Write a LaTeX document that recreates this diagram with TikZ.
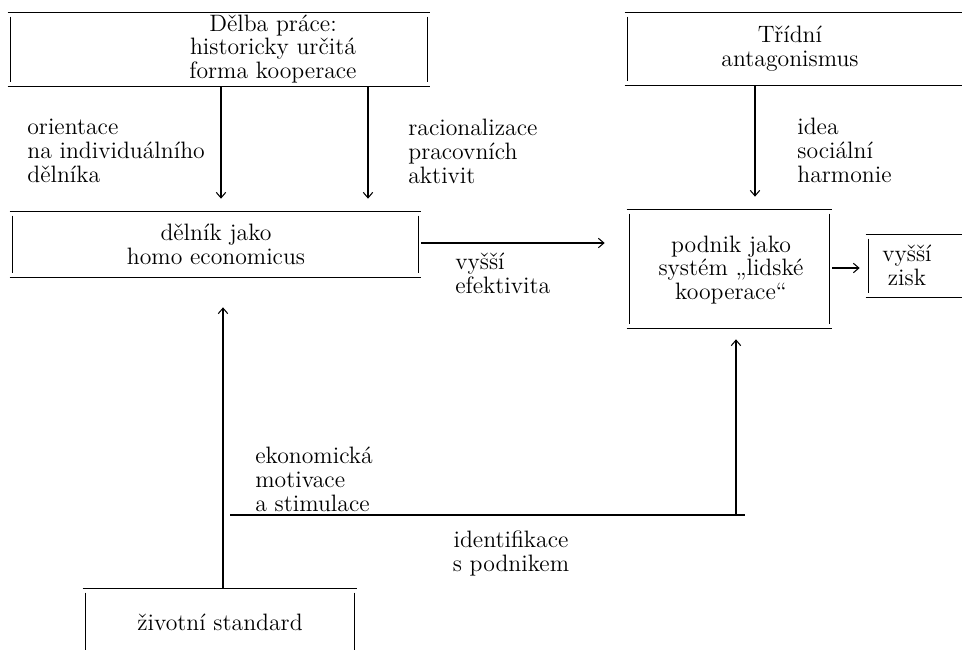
\documentclass[tikz,border=0pt]{standalone}
\usetikzlibrary{arrows.meta,fit}
\begin{document}
\begin{tikzpicture}[x=0.02cm,y=-0.02cm,
  kasten/.style={inner sep=0pt},
  linie/.style={line width=0.6pt},
  txt/.style={font=\fontsize{13.5}{13.6}\selectfont, align=center, inner sep=0pt},
  lbl/.style={font=\fontsize{13.5}{13.6}\selectfont, align=left, anchor=west, inner sep=0pt},
  pfeil/.style={line width=0.6pt, -{Straight Barb[length=1.1mm,width=1.9mm]}}]
\useasboundingbox (0,0) rectangle (962,649);
\node[kasten, fit={(8,13) (430,86)}] (delba) {};
\node[kasten, fit={(625,13) (990,85)}] (trid) {};
\node[kasten, fit={(10,212) (421,277)}] (delnik) {};
\node[kasten, fit={(627,210) (832,328)}] (podnik) {};
\node[kasten, fit={(866,235) (990,297)}] (zisk) {};
\node[kasten, fit={(83,589) (357,670)}] (standard) {};
\foreach \k in {delba,trid,delnik,podnik,zisk,standard}{
  \draw[linie] (\k.north west) -- (\k.north east);
  \draw[linie] (\k.south west) -- (\k.south east);
  \draw[linie] ([xshift=0.05cm,yshift=-0.08cm]\k.north west) -- ([xshift=0.05cm,yshift=0.08cm]\k.south west);
  \draw[linie] ([xshift=-0.05cm,yshift=-0.08cm]\k.north east) -- ([xshift=-0.05cm,yshift=0.08cm]\k.south east);
}
\node[txt] (tdelba) at (273,49) {Dělba práce:\\historicky určitá\\forma kooperace};
\node[txt] (ttrid) at (790,49) {Třídní\\antagonismus};
\node[txt] (tdelnik) at (216,244) {dělník jako\\homo economicus};
\node[txt] (tpodnik) at (731,270) {podnik jako\\systém „lidské\\kooperace“};
\node[txt] (tzisk) at (907,265) {vyšší\\zisk};
\node[txt] (tstandard) at (220,622) {životní standard};
\node[lbl] (orient) at (27,151) {orientace\\na individuálního\\dělníka};
\node[lbl] (racio) at (408,151) {racionalizace\\pracovních\\aktivit};
\node[lbl] (idea) at (797,150) {idea\\sociální\\harmonie};
\node[lbl] (efekt) at (455,273) {vyšší\\efektivita};
\node[lbl] (motiv) at (255,479) {ekonomická\\motivace\\a stimulace};
\node[txt] (ident) at (511,553) {identifikace\\s podnikem};
\coordinate (abzweig) at (230,515);
\coordinate (ecke) at (745,515);
\draw[pfeil, shorten >=0.26cm] (delba.south -| 221,0) -- (delnik.north -| 221,0);
\draw[pfeil, shorten >=0.26cm] (delba.south -| 368,0) -- (delnik.north -| 368,0);
\draw[pfeil, shorten >=0.26cm] (trid.south -| 755,0) -- (podnik.north -| 755,0);
\draw[pfeil, shorten >=0.44cm] (delnik.east |- 0,243) -- (podnik.west |- 0,243);
\draw[pfeil, shorten >=0.12cm] (podnik.east |- 0,268) -- (zisk.west |- 0,268);
\draw[pfeil, shorten >=0.6cm] (standard.north -| 223,0) -- (delnik.south -| 223,0);
\draw[linie] (abzweig) -- (ecke);
\draw[pfeil, shorten >=0.22cm] (ecke -| 736,0) -- (podnik.south -| 736,0);
\end{tikzpicture}
\end{document}
